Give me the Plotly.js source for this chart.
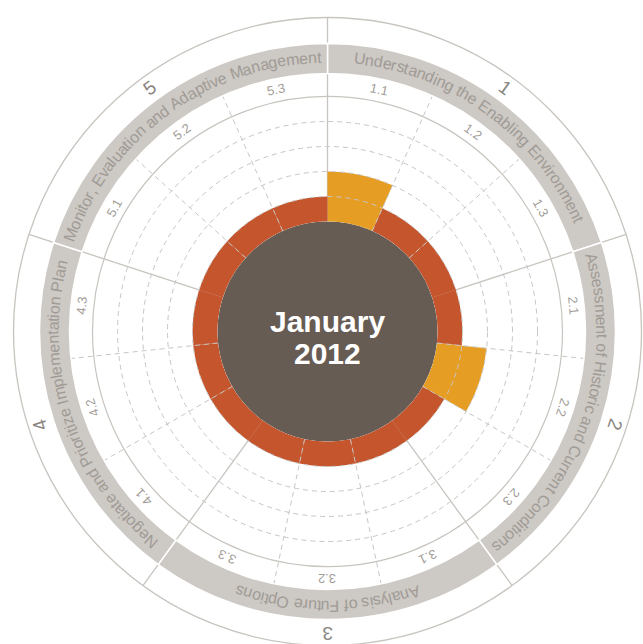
<!DOCTYPE html>
<html>
<head>
<meta charset="utf-8">
<script src="https://cdn.plot.ly/plotly-3.0.1.min.js"></script>
<style>
html,body{margin:0;padding:0;overflow:hidden;background:#ffffff;}
#chart{width:660px;height:660px;}
</style>
</head>
<body>
<div id="chart"></div>
<script>
// ---------------- data ----------------
const sectionNumbers = ['1', '2', '3', '4', '5'];
const sectionTitles = [
  'Understanding the Enabling Environment',
  'Assessment of Historic and Current Conditions',
  'Analysis of Future Options',
  'Negotiate and Prioritize Implementation Plan',
  'Monitor, Evaluation and Adaptive Management'
];
const itemLabels = ['1.1','1.2','1.3','2.1','2.2','2.3','3.1','3.2','3.3','4.1','4.2','4.3','5.1','5.2','5.3'];
const itemLevels = [2, 1, 1, 1, 2, 1, 1, 1, 1, 1, 1, 1, 1, 1, 1];
const centerLines = ['January', '2012'];
const dashedLevels = [1, 2, 3, 4];
const solidLevels = [5];

// ---------------- styles / geometry ----------------
const levelColors = {1: '#c4552c', 2: '#e69d24'};
const BROWN = '#675c53';
const BAND = '#cdc9c4';
const BAND_TEXT = '#a09b96';
const LINE = '#c8c4bf';
const DASH = '#c6c6c6';
const FONT = '"Liberation Sans", Arial, Helvetica, sans-serif';

const W = 660, H = 660, CX = 327.5, CY = 331.5;
const PX = 25, R0 = 110, ROUT = 314, BAND_IN = 258, BAND_OUT = 288;
const unitsOut = (ROUT - R0) / PX;
const bandIn = (BAND_IN - R0) / PX;
const bandOut = (BAND_OUT - R0) / PX;
const TITLE_R = 274.5, TITLE_SIZE = 16;
const TICK_R = 247, TICK_SIZE = 13;
const NUM_R = 302, NUM_SIZE = 19;

const nSec = sectionTitles.length;
const perSec = itemLabels.length / nSec;
const itemStep = 360 / itemLabels.length;
const secStep = 360 / nSec;
const itemTheta = itemLabels.map((_, i) => itemStep * (i + 0.5));
const secTheta = sectionTitles.map((_, i) => secStep * (i + 0.5));
const secBounds = sectionTitles.map((_, i) => secStep * i);
const subBounds = itemLabels.map((_, i) => itemStep * i).filter((_, i) => i % perSec !== 0);

function dom(R) {
  return {x: [(CX - R) / W, (CX + R) / W], y: [(H - CY - R) / H, (H - CY + R) / H]};
}
function pos(theta, rpx) {
  const a = theta * Math.PI / 180;
  return {x: (CX + rpx * Math.sin(a)) / W, y: (H - (CY - rpx * Math.cos(a))) / H};
}
function ang(t) { let a = ((t % 360) + 360) % 360; if (a > 180) a -= 360; return a; }

const hiddenAngular = {visible: false, rotation: 90, direction: 'clockwise'};
const hiddenRadial = {visible: false};

// ---------------- traces ----------------
const traces = [
  {type: 'scatterpolar', subplot: 'polar', r: [0], theta: [0], mode: 'markers',
   marker: {opacity: 0}, hoverinfo: 'skip', showlegend: false},
  {type: 'barpolar', subplot: 'polar2', r: itemLevels, theta: itemTheta,
   width: itemLabels.map(() => itemStep), base: 0,
   text: itemLabels,
   marker: {color: itemLevels.map(v => levelColors[v]), line: {width: 0}},
   hoverinfo: 'skip', showlegend: false},
  {type: 'scatterpolar', subplot: 'polar3', r: [0], theta: [0], mode: 'markers',
   marker: {opacity: 0}, hoverinfo: 'skip', showlegend: false},
  {type: 'barpolar', subplot: 'polar4', r: sectionTitles.map(() => bandOut - bandIn),
   base: sectionTitles.map(() => bandIn), theta: secTheta,
   width: sectionTitles.map(() => secStep),
   marker: {color: BAND, line: {color: '#ffffff', width: 1.5}},
   hoverinfo: 'skip', showlegend: false}
];

// ---------------- annotations ----------------
const anns = [];
const ctx = document.createElement('canvas').getContext('2d');
ctx.font = TITLE_SIZE + 'px ' + FONT;
sectionTitles.forEach((txt, s) => {
  const chars = Array.from(txt);
  const widths = chars.map(c => ctx.measureText(c).width);
  const total = widths.reduce((a, b) => a + b, 0);
  const span = total / TITLE_R * 180 / Math.PI;
  let acc = 0;
  chars.forEach((c, k) => {
    const th = secTheta[s] - span / 2 + (acc + widths[k] / 2) / TITLE_R * 180 / Math.PI;
    acc += widths[k];
    if (c === ' ') return;
    const p = pos(th, TITLE_R);
    anns.push({x: p.x, y: p.y, xref: 'paper', yref: 'paper', text: c, textangle: ang(th),
      showarrow: false, xanchor: 'center', yanchor: 'middle', borderpad: 0,
      font: {family: FONT, size: TITLE_SIZE, color: BAND_TEXT}});
  });
});
itemLabels.forEach((lab, i) => {
  const p = pos(itemTheta[i], TICK_R);
  anns.push({x: p.x, y: p.y, xref: 'paper', yref: 'paper', text: lab, textangle: ang(itemTheta[i]),
    showarrow: false, xanchor: 'center', yanchor: 'middle', borderpad: 0,
    font: {family: FONT, size: TICK_SIZE, color: '#a29d98'}});
});
sectionNumbers.forEach((n, s) => {
  const p = pos(secTheta[s], NUM_R);
  anns.push({x: p.x, y: p.y, xref: 'paper', yref: 'paper', text: n, textangle: ang(secTheta[s]),
    showarrow: false, xanchor: 'center', yanchor: 'middle', borderpad: 0,
    font: {family: FONT, size: NUM_SIZE, color: '#8a8580'}});
});
const centerY = [321, 353];
centerLines.forEach((t, k) => {
  anns.push({x: CX / W, y: (H - centerY[k]) / H, xref: 'paper', yref: 'paper', text: t,
    showarrow: false, xanchor: 'center', yanchor: 'middle', borderpad: 0,
    font: {family: FONT, size: 30, color: '#ffffff', weight: 'bold'}});
});

// ---------------- layout ----------------
const layout = {
  width: W, height: H,
  margin: {l: 0, r: 0, t: 0, b: 0},
  paper_bgcolor: '#ffffff',
  showlegend: false,
  polar: {
    domain: dom(R0), bgcolor: BROWN,
    radialaxis: Object.assign({range: [0, 1]}, hiddenRadial),
    angularaxis: hiddenAngular
  },
  polar2: {
    domain: dom(ROUT), bgcolor: 'rgba(0,0,0,0)', hole: R0 / ROUT,
    radialaxis: {range: [0, unitsOut], tickvals: solidLevels, showticklabels: false, ticks: '',
      showline: false, showgrid: true, gridcolor: LINE, gridwidth: 1.2, layer: 'above traces'},
    angularaxis: {rotation: 90, direction: 'clockwise', tickvals: secBounds, showticklabels: false,
      ticks: '', showline: false, showgrid: true, gridcolor: LINE, gridwidth: 1.3, layer: 'above traces'}
  },
  polar3: {
    domain: dom(BAND_IN), bgcolor: 'rgba(0,0,0,0)', hole: R0 / BAND_IN,
    radialaxis: {range: [0, bandIn], tickvals: dashedLevels, showticklabels: false, ticks: '',
      showline: false, showgrid: true, gridcolor: DASH, gridwidth: 1, griddash: '5px,4px'},
    angularaxis: {rotation: 90, direction: 'clockwise', tickvals: subBounds, showticklabels: false,
      ticks: '', showline: false, showgrid: true, gridcolor: DASH, gridwidth: 1, griddash: '5px,4px'}
  },
  polar4: {
    domain: dom(ROUT), bgcolor: 'rgba(0,0,0,0)',
    radialaxis: {range: [-R0 / PX, unitsOut], visible: false},
    angularaxis: {rotation: 90, direction: 'clockwise', showticklabels: false, ticks: '',
      showgrid: false, showline: true, linecolor: LINE, linewidth: 1.3}
  },
  annotations: anns
};

Plotly.newPlot('chart', traces, layout, {staticPlot: true, displayModeBar: false});
</script>
</body>
</html>
